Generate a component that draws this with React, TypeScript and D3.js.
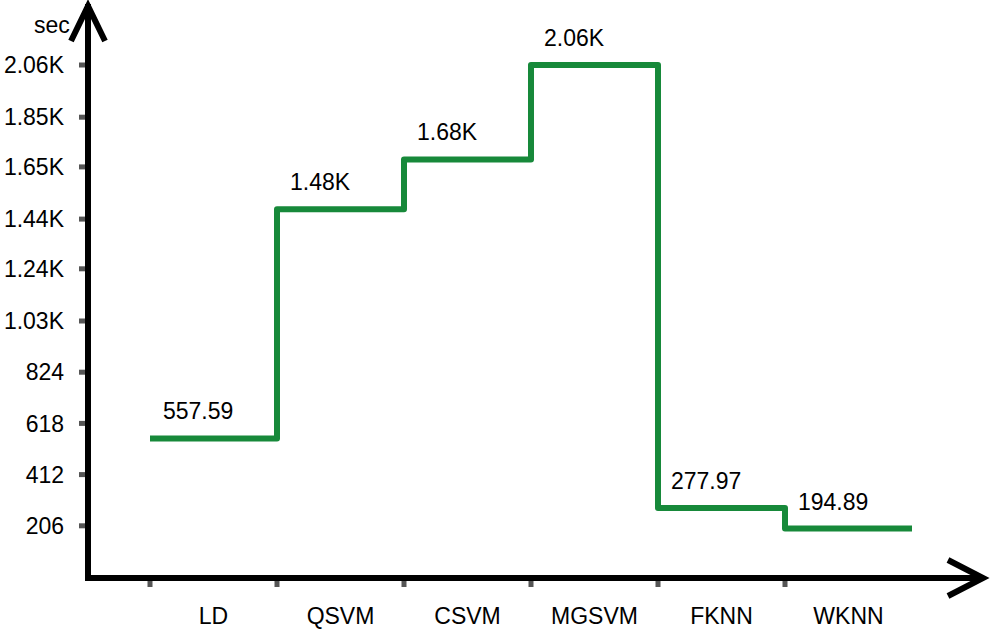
import React, { useEffect, useRef } from 'react';
import * as d3 from 'd3';

// training time per classifier, seconds
const categories = ['LD', 'QSVM', 'CSVM', 'MGSVM', 'FKNN', 'WKNN'];
const times = [557.59, 1480, 1680, 2060, 277.97, 194.89];
const valueLabels = ['557.59', '1.48K', '1.68K', '2.06K', '277.97', '194.89'];
const yTicks = [206, 412, 618, 824, 1030, 1240, 1440, 1650, 1850, 2060];
const yTickLabels = ['206', '412', '618', '824', '1.03K', '1.24K', '1.44K', '1.65K', '1.85K', '2.06K'];

const W = 991;
const H = 629;
const GREEN = '#17893a';

export default function App() {
  const ref = useRef<SVGSVGElement>(null);

  useEffect(() => {
    const svg = d3.select(ref.current);
    svg.selectAll('*').remove();

    const axisX = 88;
    const axisY = 578;

    const x = d3.scaleBand().domain(categories).range([150, 912]);
    const y = d3.scaleLinear().domain([0, 2060]).range([577, 65]);

    const font = 'Liberation Sans, Arial, sans-serif';

    // y tick marks + labels
    const yt = svg.append('g');
    yTicks.forEach((v, i) => {
      yt.append('rect')
        .attr('x', 79).attr('y', y(v) - 2.5)
        .attr('width', 6).attr('height', 5)
        .attr('fill', '#555');
      yt.append('text')
        .attr('x', 64).attr('y', y(v))
        .attr('dy', '0.36em')
        .attr('text-anchor', 'end')
        .attr('font-family', font)
        .attr('font-size', 23)
        .text(yTickLabels[i]);
    });

    // x tick marks at band edges + category labels
    const xt = svg.append('g');
    categories.forEach(c => {
      xt.append('rect')
        .attr('x', x(c)! - 2.5).attr('y', 581)
        .attr('width', 5).attr('height', 6)
        .attr('fill', '#555');
      xt.append('text')
        .attr('x', x(c)! + x.bandwidth() / 2)
        .attr('y', 624)
        .attr('text-anchor', 'middle')
        .attr('font-family', font)
        .attr('font-size', 23)
        .text(c);
    });

    // step line
    const pts: [number, number][] = categories.map((c, i) => [x(c)!, y(times[i])]);
    pts.push([x.range()[1], y(times[times.length - 1])]);
    svg.append('path')
      .attr('d', d3.line().curve(d3.curveStepAfter)(pts))
      .attr('fill', 'none')
      .attr('stroke', GREEN)
      .attr('stroke-width', 6)
      .attr('stroke-linejoin', 'round');

    // value labels
    categories.forEach((c, i) => {
      svg.append('text')
        .attr('x', x(c)! + 13)
        .attr('y', y(times[i]) - 19)
        .attr('font-family', font)
        .attr('font-size', 23)
        .text(valueLabels[i]);
    });

    // unit
    svg.append('text')
      .attr('x', 34).attr('y', 33)
      .attr('font-family', font)
      .attr('font-size', 23)
      .text('sec');

    // axes with arrows
    const ax = svg.append('g')
      .attr('fill', 'none')
      .attr('stroke', '#000')
      .attr('stroke-width', 6);
    ax.append('path')
      .attr('d', `M${axisX},${axisY} L${axisX},4`);
    ax.append('path')
      .attr('d', `M${axisX - 3},${axisY} L984,${axisY}`);
    ax.append('path')
      .attr('d', `M71,41 L${axisX},6 L105,41`)
      .attr('stroke-linejoin', 'miter');
    ax.append('path')
      .attr('d', `M948,560 L983,${axisY} L948,596`)
      .attr('stroke-linejoin', 'miter');
  }, []);

  return (
    <svg
      ref={ref}
      width={W}
      height={H}
      style={{ position: 'absolute', left: 0, top: 0, background: '#fff' }}
    />
  );
}
